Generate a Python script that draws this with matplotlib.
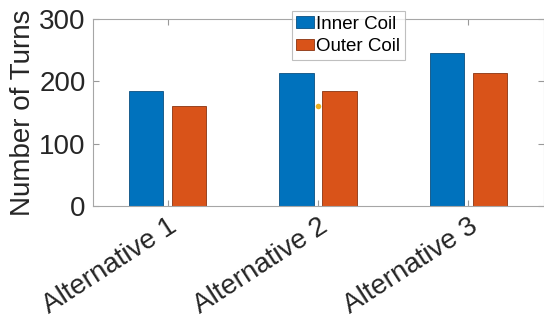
import numpy as np
import matplotlib.pyplot as plt

categories = ['Alternative 1', 'Alternative 2', 'Alternative 3']
inner_coil = [184, 213, 246]
outer_coil = [160, 185, 214]
point_x = [2]
point_y = [160]

plt.rcParams['font.family'] = ['Liberation Sans', 'DejaVu Sans']

W, H = 544, 320
fig = plt.figure(figsize=(W / 100, H / 100), dpi=100)
ax = fig.add_axes([92.5 / W, 1 - 206.3 / H, (543.5 - 92.5) / W, (206.3 - 19) / H])

x = np.arange(1, len(categories) + 1)
bw = 0.229
off = 0.143
ax.bar(x - off, inner_coil, bw, color='#0072BD', edgecolor='#0a4f80', linewidth=0.6, label='Inner Coil')
ax.bar(x + off, outer_coil, bw, color='#D95319', edgecolor='#8a3410', linewidth=0.6, label='Outer Coil')
ax.plot(point_x, point_y, 'o', color='#EDB120', markersize=4, markeredgewidth=0)

ax.set_xlim(0.5, 3.5)
ax.set_ylim(0, 300)
ax.set_yticks([0, 100, 200, 300])
ax.set_xticks(x)
ax.set_xticklabels(categories, rotation=33, ha='right', rotation_mode='anchor')
ax.set_ylabel('Number of Turns', fontsize=20, color='#262626', labelpad=2)

ax.tick_params(direction='in', length=4, top=True, right=True, labelsize=20,
               labelcolor='#262626', color='#999999', width=0.8, pad=5)
for s in ax.spines.values():
    s.set_color('#a6a6a6')
    s.set_linewidth(0.8)

leg = ax.legend(loc='upper left', bbox_to_anchor=(291.5 / W, 1 - 11 / H),
                bbox_transform=fig.transFigure, fontsize=13.5, frameon=True,
                fancybox=False, edgecolor='#b0b0b0', handlelength=0.95,
                handleheight=0.55, handletextpad=0.1, borderpad=0.25,
                labelspacing=0.3, borderaxespad=0)
leg.get_frame().set_linewidth(0.8)

fig.savefig('out.png', dpi=100)
